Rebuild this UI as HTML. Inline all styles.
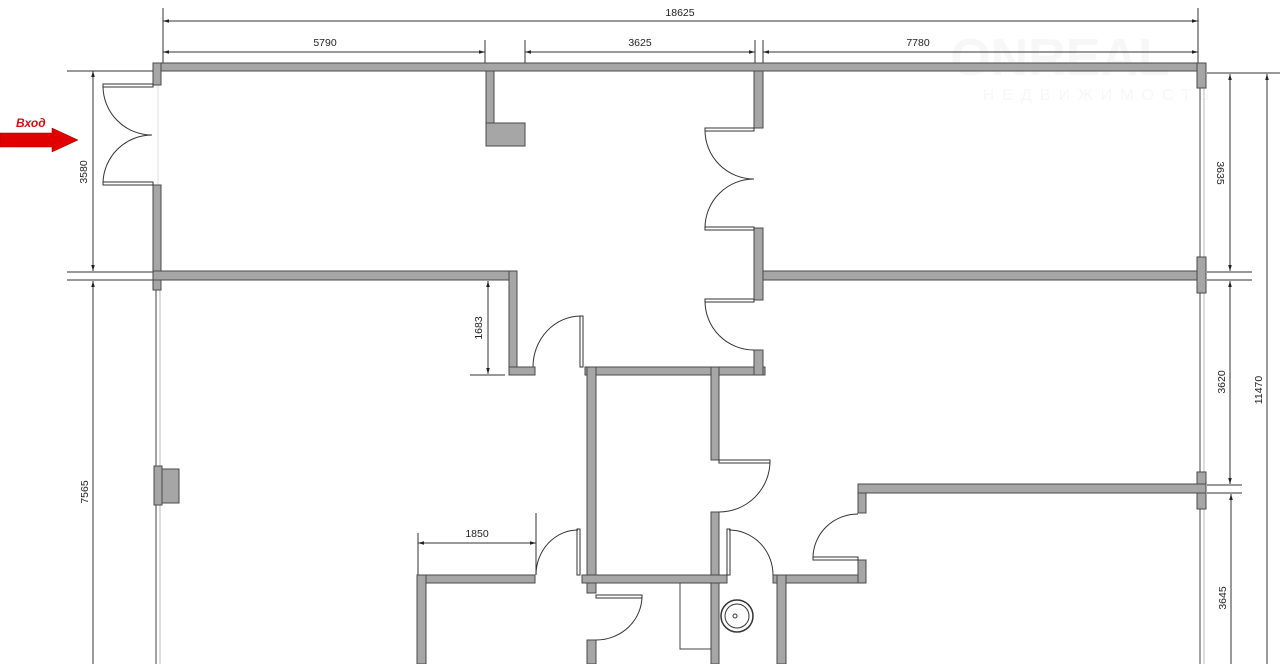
<!DOCTYPE html>
<html><head><meta charset="utf-8"><style>
html,body{margin:0;padding:0;background:#fff;}
svg{display:block;font-family:"Liberation Sans",sans-serif;}
.w{fill:#a6a6a6;stroke:#4a4a4a;stroke-width:1;}
.d{fill:none;stroke:#333;stroke-width:1;}
.t{font-size:10.5px;fill:#222;}
</style></head><body>
<svg width="1280" height="664" viewBox="0 0 1280 664">
<defs>
<marker id="a" viewBox="0 0 10 10" refX="10" refY="5" markerWidth="6" markerHeight="6" orient="auto-start-reverse"><path d="M0,2 L10,5 L0,8 z" fill="#222"/></marker>
</defs>
<!-- watermark -->
<text x="1060" y="75" font-size="52" font-weight="bold" fill="#f7f7f7" text-anchor="middle">ONREAL</text>
<text x="1100" y="100" font-size="16" fill="#f7f7f7" text-anchor="middle" letter-spacing="8">НЕДВИЖИМОСТЬ</text>

<!-- dimension lines -->
<g class="d" stroke="#222">
<line x1="163" y1="8" x2="163" y2="68"/>
<line x1="1198" y1="8" x2="1198" y2="68"/>
<line x1="163" y1="21" x2="1198" y2="21" marker-start="url(#a)" marker-end="url(#a)"/>
<line x1="485" y1="40" x2="485" y2="66"/>
<line x1="525" y1="40" x2="525" y2="66"/>
<line x1="755" y1="40" x2="755" y2="66"/>
<line x1="763" y1="40" x2="763" y2="66"/>
<line x1="163" y1="52" x2="485" y2="52" marker-start="url(#a)" marker-end="url(#a)"/>
<line x1="525" y1="52" x2="755" y2="52" marker-start="url(#a)" marker-end="url(#a)"/>
<line x1="763" y1="52" x2="1198" y2="52" marker-start="url(#a)" marker-end="url(#a)"/>
<line x1="67" y1="71" x2="153" y2="71"/>
<line x1="67" y1="272" x2="153" y2="272"/>
<line x1="67" y1="280" x2="153" y2="280"/>
<line x1="93" y1="71" x2="93" y2="271" marker-start="url(#a)" marker-end="url(#a)"/>
<line x1="93" y1="281" x2="93" y2="664" marker-start="url(#a)"/>
<line x1="470" y1="280" x2="505" y2="280"/>
<line x1="470" y1="375" x2="505" y2="375"/>
<line x1="488" y1="281" x2="488" y2="374" marker-start="url(#a)" marker-end="url(#a)"/>
<line x1="418" y1="533" x2="418" y2="575"/>
<line x1="536" y1="513" x2="536" y2="575"/>
<line x1="418" y1="543" x2="536" y2="543" marker-start="url(#a)" marker-end="url(#a)"/>
<line x1="1207" y1="73" x2="1280" y2="73"/>
<line x1="1207" y1="272" x2="1252" y2="272"/>
<line x1="1207" y1="280" x2="1252" y2="280"/>
<line x1="1207" y1="485" x2="1242" y2="485"/>
<line x1="1207" y1="493" x2="1242" y2="493"/>
<line x1="1230" y1="74" x2="1230" y2="271" marker-start="url(#a)" marker-end="url(#a)"/>
<line x1="1230" y1="281" x2="1230" y2="484" marker-start="url(#a)" marker-end="url(#a)"/>
<line x1="1231" y1="494" x2="1231" y2="664" marker-start="url(#a)"/>
<line x1="1267" y1="74" x2="1267" y2="664" marker-start="url(#a)"/>
</g>
<g class="t">
<text x="680" y="16" text-anchor="middle">18625</text>
<text x="325" y="46" text-anchor="middle">5790</text>
<text x="640" y="46" text-anchor="middle">3625</text>
<text x="918" y="46" text-anchor="middle">7780</text>
<text x="477" y="537" text-anchor="middle">1850</text>
<text transform="translate(87,172) rotate(-90)" text-anchor="middle">3580</text>
<text transform="translate(88,492) rotate(-90)" text-anchor="middle">7565</text>
<text transform="translate(482,328) rotate(-90)" text-anchor="middle">1683</text>
<text transform="translate(1217,173) rotate(90)" text-anchor="middle">3635</text>
<text transform="translate(1225,382) rotate(-90)" text-anchor="middle">3620</text>
<text transform="translate(1226,598) rotate(-90)" text-anchor="middle">3645</text>
<text transform="translate(1262,390) rotate(-90)" text-anchor="middle">11470</text>
</g>

<!-- thin window lines -->
<g stroke="#444" stroke-width="1">
<line x1="156" y1="290" x2="156" y2="664"/>
<line x1="160" y1="290" x2="160" y2="664" stroke="#bbb"/>
<line x1="1200" y1="88" x2="1200" y2="258"/>
<line x1="1204" y1="88" x2="1204" y2="258" stroke="#bbb"/>
<line x1="1200" y1="293" x2="1200" y2="472"/>
<line x1="1204" y1="293" x2="1204" y2="472" stroke="#bbb"/>
<line x1="1200" y1="509" x2="1200" y2="664"/>
<line x1="1204" y1="509" x2="1204" y2="664" stroke="#bbb"/>
<line x1="158" y1="85" x2="158" y2="185" stroke="#ddd"/>
</g>

<!-- walls -->
<g class="w">
<rect x="153" y="63" width="1053" height="8"/>
<rect x="153" y="63" width="8" height="22"/>
<rect x="153" y="185" width="8" height="105"/>
<rect x="153" y="271" width="364" height="9"/>
<rect x="509" y="271" width="8" height="104"/>
<rect x="509" y="367" width="26" height="8"/>
<rect x="585" y="367" width="180" height="8"/>
<rect x="486" y="71" width="8" height="52"/>
<rect x="486" y="123" width="39" height="23"/>
<rect x="754" y="71" width="9" height="57"/>
<rect x="754" y="228" width="9" height="72"/>
<rect x="754" y="350" width="9" height="25"/>
<rect x="763" y="271" width="443" height="9"/>
<rect x="1197" y="63" width="9" height="25"/>
<rect x="1197" y="257" width="9" height="36"/>
<rect x="1197" y="472" width="9" height="37"/>
<rect x="154" y="466" width="8" height="39"/>
<rect x="162" y="469" width="17" height="34"/>
<rect x="587" y="367" width="9" height="226"/>
<rect x="587" y="640" width="9" height="24"/>
<rect x="711" y="367" width="8" height="93"/>
<rect x="711" y="512" width="8" height="152"/>
<rect x="417" y="575" width="118" height="8"/>
<rect x="582" y="575" width="145" height="8"/>
<rect x="773" y="575" width="93" height="8"/>
<rect x="417" y="575" width="9" height="89"/>
<rect x="777" y="575" width="9" height="89"/>
<rect x="858" y="484" width="8" height="29"/>
<rect x="858" y="560" width="8" height="23"/>
<rect x="858" y="484" width="348" height="9"/>
</g>

<!-- doors -->
<g class="d">
<rect x="103" y="84" width="50" height="3"/>
<path d="M103,86 A49,49 0 0 0 152,135"/>
<rect x="103" y="182" width="50" height="3"/>
<path d="M103,183 A49,49 0 0 1 152,135"/>
<rect x="705" y="128" width="49" height="3"/>
<path d="M705,130 A49,49 0 0 0 754,179"/>
<rect x="705" y="227" width="49" height="3"/>
<path d="M705,228 A49,49 0 0 1 754,179"/>
<rect x="705" y="299" width="49" height="3"/>
<path d="M705,301 A49,49 0 0 0 754,350"/>
<rect x="580" y="316" width="3" height="51"/>
<path d="M581,316 A48,51 0 0 0 533,367"/>
<rect x="719" y="460" width="51" height="3"/>
<path d="M770,461 A51,51 0 0 1 719,512"/>
<rect x="577" y="529" width="3" height="46"/>
<path d="M578,530 A42,45 0 0 0 536,575"/>
<rect x="727" y="529" width="3" height="46"/>
<path d="M729,530 A44,45 0 0 1 773,575"/>
<rect x="813" y="557" width="45" height="3"/>
<path d="M813,558 A45,44 0 0 1 858,514"/>
<rect x="596" y="595" width="46" height="3"/>
<path d="M642,596 A46,44 0 0 1 596,640"/>
</g>
<!-- fixtures -->
<rect x="680" y="583" width="31" height="66" fill="#fff" stroke="#444"/>
<circle cx="737" cy="616" r="16" fill="#fff" stroke="#333" stroke-width="1.5"/>
<circle cx="737" cy="616" r="12" fill="none" stroke="#333"/>
<circle cx="735" cy="616" r="2" fill="none" stroke="#333"/>

<!-- entrance arrow -->
<path d="M0,133 L52,133 L52,128 L78,140 L52,152 L52,147 L0,147 z" fill="#e00000" stroke="#900" stroke-width="0.5"/>
<text x="16" y="127" font-size="12" font-weight="bold" font-style="italic" fill="#d01010">Вход</text>
</svg>
</body></html>
